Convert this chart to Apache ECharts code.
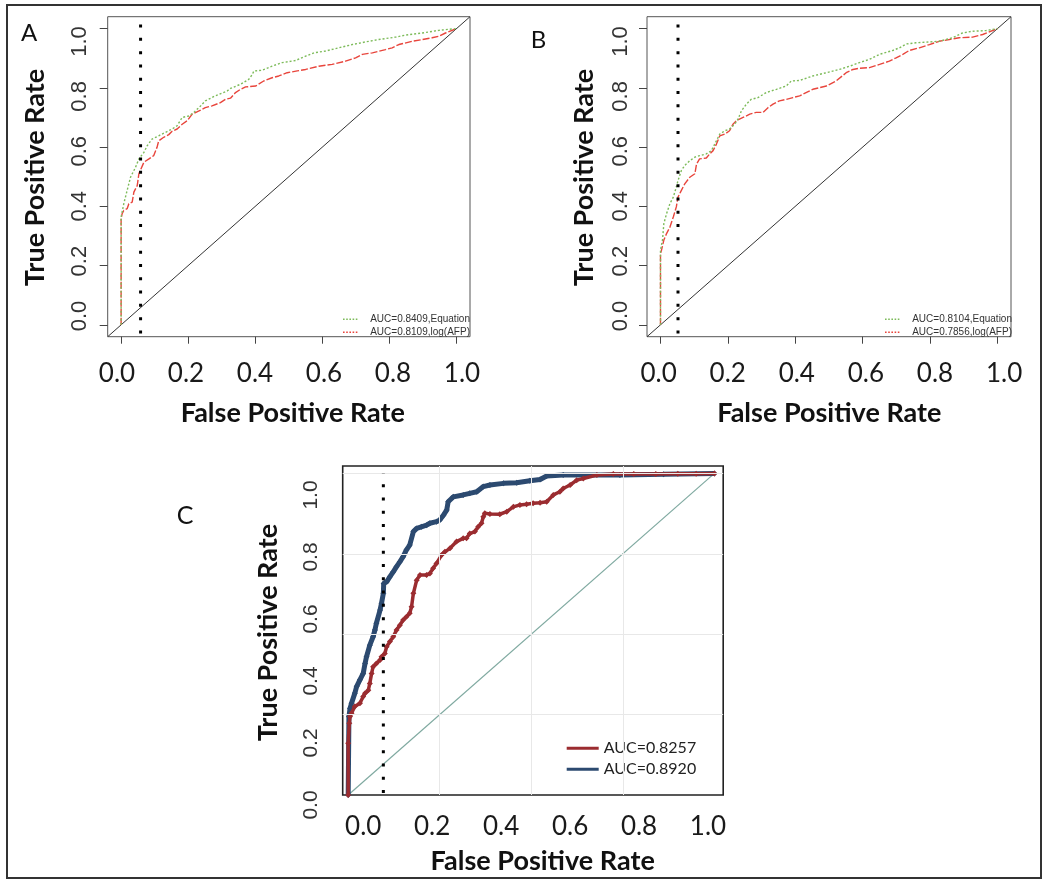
<!DOCTYPE html>
<html><head><meta charset="utf-8">
<script src="https://cdn.jsdelivr.net/npm/echarts@6/dist/echarts.min.js"></script>
<style>html,body{margin:0;padding:0;background:#fff}#c{width:1050px;height:888px}</style>
</head><body><div id="c"></div>
<script>
// ---- tick labels ----
const tickVals = [0, 0.2, 0.4, 0.6, 0.8, 1.0];
const tickLabels = ['0.0', '0.2', '0.4', '0.6', '0.8', '1.0'];
const gridValsC = [0.25, 0.5, 0.75];
const gridValsCY = [0.25, 0.5, 0.75, 1.0];

// ---- panel A ----
const aNames = ['AUC=0.8409,Equation', 'AUC=0.8109,log(AFP)'];
const aEquation = [[0,0],[0,0.364],[0.008,0.409],[0.018,0.454],[0.028,0.498],[0.043,0.532],[0.053,0.560],[0.068,0.582],[0.078,0.605],[0.092,0.627],[0.112,0.638],[0.152,0.661],[0.167,0.672],[0.182,0.700],[0.202,0.705],[0.217,0.717],[0.237,0.739],[0.251,0.756],[0.281,0.773],[0.316,0.789],[0.326,0.798],[0.356,0.812],[0.381,0.829],[0.391,0.845],[0.396,0.857],[0.420,0.859],[0.450,0.873],[0.480,0.885],[0.520,0.892],[0.550,0.907],[0.575,0.918],[0.609,0.924],[0.649,0.935],[0.689,0.946],[0.729,0.955],[0.768,0.963],[0.818,0.971],[0.848,0.978],[0.898,0.985],[0.947,0.994],[1,1]];
const aLogAFP = [[0,0],[0,0.358],[0.003,0.375],[0.008,0.386],[0.018,0.392],[0.023,0.409],[0.033,0.414],[0.038,0.448],[0.048,0.470],[0.053,0.510],[0.058,0.523],[0.068,0.549],[0.083,0.560],[0.097,0.571],[0.107,0.599],[0.112,0.621],[0.127,0.633],[0.142,0.642],[0.152,0.653],[0.167,0.661],[0.182,0.677],[0.197,0.689],[0.212,0.711],[0.232,0.722],[0.251,0.733],[0.271,0.739],[0.296,0.750],[0.311,0.761],[0.326,0.765],[0.341,0.784],[0.356,0.795],[0.371,0.803],[0.401,0.806],[0.425,0.823],[0.450,0.834],[0.470,0.840],[0.495,0.851],[0.525,0.857],[0.550,0.862],[0.589,0.873],[0.629,0.879],[0.669,0.890],[0.699,0.901],[0.719,0.913],[0.749,0.918],[0.788,0.929],[0.808,0.935],[0.828,0.946],[0.868,0.957],[0.898,0.963],[0.927,0.969],[0.947,0.974],[0.967,0.985],[1,1]];
const aCutoff = 0.058;

// ---- panel B ----
const bNames = ['AUC=0.8104,Equation', 'AUC=0.7856,log(AFP)'];
const bEquation = [[0,0],[0,0.252],[0.006,0.286],[0.010,0.342],[0.018,0.375],[0.028,0.409],[0.038,0.431],[0.047,0.465],[0.052,0.487],[0.062,0.521],[0.072,0.538],[0.087,0.554],[0.102,0.566],[0.116,0.571],[0.136,0.577],[0.151,0.588],[0.161,0.610],[0.176,0.644],[0.191,0.655],[0.205,0.661],[0.220,0.677],[0.230,0.694],[0.240,0.722],[0.255,0.745],[0.269,0.761],[0.289,0.767],[0.314,0.784],[0.344,0.795],[0.373,0.806],[0.388,0.823],[0.413,0.825],[0.452,0.840],[0.492,0.851],[0.531,0.862],[0.561,0.873],[0.590,0.885],[0.620,0.896],[0.650,0.913],[0.689,0.926],[0.709,0.935],[0.729,0.948],[0.758,0.952],[0.798,0.955],[0.827,0.957],[0.867,0.969],[0.896,0.985],[0.926,0.991],[0.965,0.993],[1,1]];
const bLogAFP = [[0,0],[0,0.241],[0.003,0.252],[0.010,0.286],[0.018,0.308],[0.028,0.330],[0.038,0.364],[0.047,0.398],[0.052,0.431],[0.062,0.454],[0.072,0.476],[0.087,0.498],[0.102,0.510],[0.107,0.543],[0.116,0.560],[0.136,0.563],[0.146,0.577],[0.156,0.588],[0.166,0.610],[0.176,0.638],[0.191,0.644],[0.205,0.655],[0.215,0.677],[0.225,0.689],[0.245,0.700],[0.265,0.711],[0.284,0.717],[0.304,0.717],[0.319,0.733],[0.334,0.745],[0.353,0.756],[0.373,0.761],[0.393,0.767],[0.413,0.773],[0.432,0.784],[0.452,0.795],[0.492,0.806],[0.521,0.823],[0.551,0.851],[0.571,0.862],[0.590,0.866],[0.620,0.868],[0.650,0.879],[0.679,0.890],[0.699,0.901],[0.719,0.913],[0.738,0.926],[0.768,0.935],[0.798,0.946],[0.827,0.957],[0.857,0.963],[0.886,0.969],[0.926,0.971],[0.956,0.980],[1,1]];
const bCutoff = 0.052;

// ---- panel C ----
const cNames = ['AUC=0.8257', 'AUC=0.8920'];
const cRed = [[0,0],[0,0.161],[0.003,0.223],[0.005,0.244],[0.009,0.254],[0.018,0.275],[0.032,0.285],[0.041,0.306],[0.046,0.316],[0.055,0.326],[0.059,0.347],[0.064,0.378],[0.068,0.399],[0.077,0.409],[0.087,0.420],[0.091,0.430],[0.100,0.440],[0.105,0.461],[0.114,0.477],[0.123,0.492],[0.132,0.513],[0.141,0.528],[0.150,0.544],[0.159,0.554],[0.168,0.565],[0.173,0.585],[0.178,0.627],[0.187,0.668],[0.196,0.684],[0.214,0.684],[0.223,0.689],[0.232,0.705],[0.241,0.720],[0.255,0.746],[0.264,0.756],[0.278,0.767],[0.296,0.788],[0.314,0.798],[0.323,0.798],[0.332,0.813],[0.346,0.819],[0.355,0.834],[0.364,0.845],[0.369,0.865],[0.373,0.876],[0.387,0.874],[0.414,0.873],[0.433,0.881],[0.451,0.896],[0.469,0.902],[0.487,0.904],[0.505,0.907],[0.524,0.909],[0.542,0.912],[0.560,0.933],[0.578,0.943],[0.587,0.953],[0.606,0.964],[0.624,0.979],[0.642,0.984],[0.679,0.995],[0.724,0.998],[0.78,0.998],[0.84,0.998],[0.90,0.999],[0.95,0.999],[1,1]];
const cBlue = [[0,0],[0.002,0.244],[0.005,0.269],[0.009,0.285],[0.018,0.316],[0.023,0.337],[0.032,0.358],[0.041,0.378],[0.046,0.409],[0.050,0.430],[0.059,0.466],[0.068,0.492],[0.073,0.513],[0.077,0.534],[0.087,0.575],[0.091,0.596],[0.096,0.627],[0.097,0.658],[0.105,0.663],[0.114,0.679],[0.123,0.694],[0.132,0.710],[0.141,0.725],[0.150,0.741],[0.159,0.762],[0.168,0.777],[0.178,0.819],[0.187,0.829],[0.200,0.834],[0.214,0.839],[0.223,0.845],[0.241,0.850],[0.250,0.855],[0.260,0.870],[0.269,0.886],[0.273,0.912],[0.287,0.927],[0.314,0.933],[0.332,0.938],[0.351,0.943],[0.369,0.959],[0.387,0.964],[0.424,0.969],[0.460,0.971],[0.496,0.977],[0.524,0.981],[0.542,0.992],[0.587,0.995],[0.742,0.995],[0.861,0.997],[1,1]];
const cCutoff = 0.096;

const tickFmt = v => { const i = tickVals.findIndex(t => Math.abs(t - v) < 1e-6); return i >= 0 ? tickLabels[i] : ''; };

const chart = echarts.init(document.getElementById('c'), null, {renderer: 'canvas'});

const grids = [
  {left: 107.7, top: 16.7, width: 362.3, height: 320, show: true, borderColor: '#555', borderWidth: 1},
  {left: 647, top: 16.7, width: 364, height: 320, show: true, borderColor: '#555', borderWidth: 1},
  {left: 342.7, top: 466, width: 380.5, height: 329, show: true, borderColor: '#222', borderWidth: 1.6},
  {left: 117, top: 41.5, width: 345, height: 274.5},
  {left: 658.6, top: 41.5, width: 345.5, height: 274.5},
  {left: 363.2, top: 495, width: 344.8, height: 310}
];

function rDataX(gi) {
  return {gridIndex: gi, type: 'value', min: -0.04, max: 1.04, position: 'bottom',
    axisLine: {show: false, onZero: false}, splitLine: {show: false}, axisLabel: {show: false},
    axisTick: {show: true, customValues: tickVals, length: 7, lineStyle: {color: '#444', width: 1}}};
}
function rDataY(gi) {
  return {gridIndex: gi, type: 'value', min: -0.04, max: 1.04, position: 'left',
    axisLine: {show: false, onZero: false}, splitLine: {show: false}, axisLabel: {show: false},
    axisTick: {show: true, customValues: tickVals, length: 8, lineStyle: {color: '#444', width: 1}}};
}
function labelX(gi, margin) {
  return {gridIndex: gi, type: 'value', min: 0, max: 1, interval: 0.2, position: 'bottom',
    axisLine: {show: false, onZero: false}, axisTick: {show: false}, splitLine: {show: false},
    axisLabel: {show: true, margin: margin, formatter: tickFmt, fontFamily: 'Lato', fontSize: 26,
      color: '#1a1a1a', verticalAlign: 'middle'}};
}
function labelY(gi, margin, fs) {
  return {gridIndex: gi, type: 'value', min: 0, max: 1, interval: 0.2, position: 'left',
    axisLine: {show: false, onZero: false}, axisTick: {show: false}, splitLine: {show: false},
    axisLabel: {show: true, margin: margin, rotate: 90, align: 'center', verticalAlign: 'middle',
      formatter: tickFmt, fontFamily: '"Liberation Sans Narrow", "Liberation Sans"', fontSize: fs, color: '#333'}};
}

const xAxes = [
  rDataX(0), rDataX(1),
  {gridIndex: 2, type: 'value', min: -0.015, max: 1.024, position: 'bottom', axisLine: {show: false, onZero: false},
    axisTick: {show: false}, axisLabel: {show: false}, splitLine: {show: false}},
  labelX(3, 57.3), labelX(4, 57.3), labelX(5, 21.7)
];
const yAxes = [
  rDataY(0), rDataY(1),
  {gridIndex: 2, type: 'value', min: 0, max: 1.023, position: 'left', axisLine: {show: false, onZero: false},
    axisTick: {show: false}, axisLabel: {show: false}, splitLine: {show: false}},
  labelY(3, 37, 22), labelY(4, 37.2, 22), labelY(5, 51.8, 21)
];

function cutoffSeries(xi, x, y0, y1) {
  return {type: 'line', xAxisIndex: xi, yAxisIndex: xi, data: [[x, y0], [x, y1]], symbol: 'none', clip: false,
    silent: true, z: 5, lineStyle: {color: '#000', width: 3, type: [3, 10.3]}};
}
function diagSeries(xi, lo, hi, color, w) {
  return {type: 'line', xAxisIndex: xi, yAxisIndex: xi, data: [[lo, lo], [hi, hi]], symbol: 'none',
    silent: true, z: 1, lineStyle: {color: color, width: w}};
}
function rCurve(xi, name, data, color, dash) {
  return {type: 'line', name: name, xAxisIndex: xi, yAxisIndex: xi, data: data, symbol: 'none', z: 3,
    itemStyle: {color: color}, lineStyle: {color: color, width: 1.4, type: dash}};
}

const diagC = diagSeries(2, 0, 1, '#7fa9a0', 1.2);
diagC.markLine = {symbol: 'none', silent: true, label: {show: false},
  lineStyle: {color: '#e8e8e8', width: 1, type: 'solid'},
  data: gridValsC.map(v => ({xAxis: v})).concat(gridValsCY.map(v => ({yAxis: v})))};
diagC.z = 1;

const series = [
  diagSeries(0, -0.04, 1.04, '#333', 1),
  rCurve(0, aNames[1], aLogAFP, '#e8453c', [7, 2]),
  rCurve(0, aNames[0], aEquation, '#7dbb5a', [2, 2]),
  cutoffSeries(0, aCutoff, -0.029, 1.045),
  diagSeries(1, -0.04, 1.04, '#333', 1),
  rCurve(1, bNames[1], bLogAFP, '#e8453c', [7, 2]),
  rCurve(1, bNames[0], bEquation, '#7dbb5a', [2, 2]),
  cutoffSeries(1, bCutoff, -0.029, 1.045),
  diagC,
  {type: 'line', name: cNames[1], xAxisIndex: 2, yAxisIndex: 2, data: cBlue, symbol: 'diamond', symbolSize: 6,
    showSymbol: true, z: 3, itemStyle: {color: '#2c4a70'}, lineStyle: {color: '#2c4a70', width: 5}},
  {type: 'line', name: cNames[0], xAxisIndex: 2, yAxisIndex: 2, data: cRed, symbol: 'diamond', symbolSize: 6,
    showSymbol: true, z: 4, itemStyle: {color: '#9b2c30'}, lineStyle: {color: '#9b2c30', width: 3.5}},
  cutoffSeries(2, cCutoff, 0.006, 1.0)
];

const dottedIcon = 'path://M0 0h2v2h-2z M4 0h2v2h-2z M8 0h2v2h-2z M12 0h2v2h-2z M16 0h2v2h-2z';
const smallLegend = (names, left) => ({
  data: names, orient: 'vertical', left: left, top: 307.8, itemWidth: 16, itemHeight: 1.6, itemGap: 0,
  icon: dottedIcon, selectedMode: false,
  textStyle: {fontFamily: '"Liberation Sans", Arial', fontSize: 10, color: '#333', lineHeight: 13, padding: [0, 0, 0, 7]}
});

const bigTitle = 'bold 27px Lato';
const texts = [
  {t: 'A', x: 29, y: 33, font: '24px Lato', r: 0},
  {t: 'B', x: 538.6, y: 40.6, font: '24px Lato', r: 0},
  {t: 'C', x: 185, y: 516, font: '25px Lato', r: 0},
  {t: 'False Positive Rate', x: 292.8, y: 413, font: bigTitle, r: 0},
  {t: 'False Positive Rate', x: 829.3, y: 413, font: bigTitle, r: 0},
  {t: 'False Positive Rate', x: 542.7, y: 861.7, font: bigTitle, r: 0},
  {t: 'True Positive Rate', x: 35, y: 177.5, font: bigTitle, r: Math.PI / 2},
  {t: 'True Positive Rate', x: 584.2, y: 177.5, font: bigTitle, r: Math.PI / 2},
  {t: 'True Positive Rate', x: 268.6, y: 632.5, font: bigTitle, r: Math.PI / 2}
];

chart.setOption({
  animation: false,
  backgroundColor: '#fff',
  grid: grids,
  xAxis: xAxes,
  yAxis: yAxes,
  legend: [
    smallLegend([aNames[0], aNames[1]], 338),
    smallLegend([bNames[0], bNames[1]], 880),
    {data: [cNames[0], cNames[1]], orient: 'vertical', left: 561.7, top: 732.8, itemWidth: 32, itemHeight: 3,
      itemGap: 0, icon: 'rect', selectedMode: false,
      textStyle: {fontFamily: 'Lato', fontSize: 16, color: '#222', lineHeight: 21}}
  ],
  graphic: [
    {type: 'rect', shape: {x: 7, y: 5, width: 1034, height: 873}, style: {fill: 'none', stroke: '#333', lineWidth: 2}, silent: true}
  ].concat(texts.map(o => ({type: 'text', x: o.x, y: o.y, rotation: o.r, silent: true,
    style: {text: o.t, font: o.font, fill: '#111', align: 'center', verticalAlign: 'middle'}}))),
  series: series
});
</script></body></html>
